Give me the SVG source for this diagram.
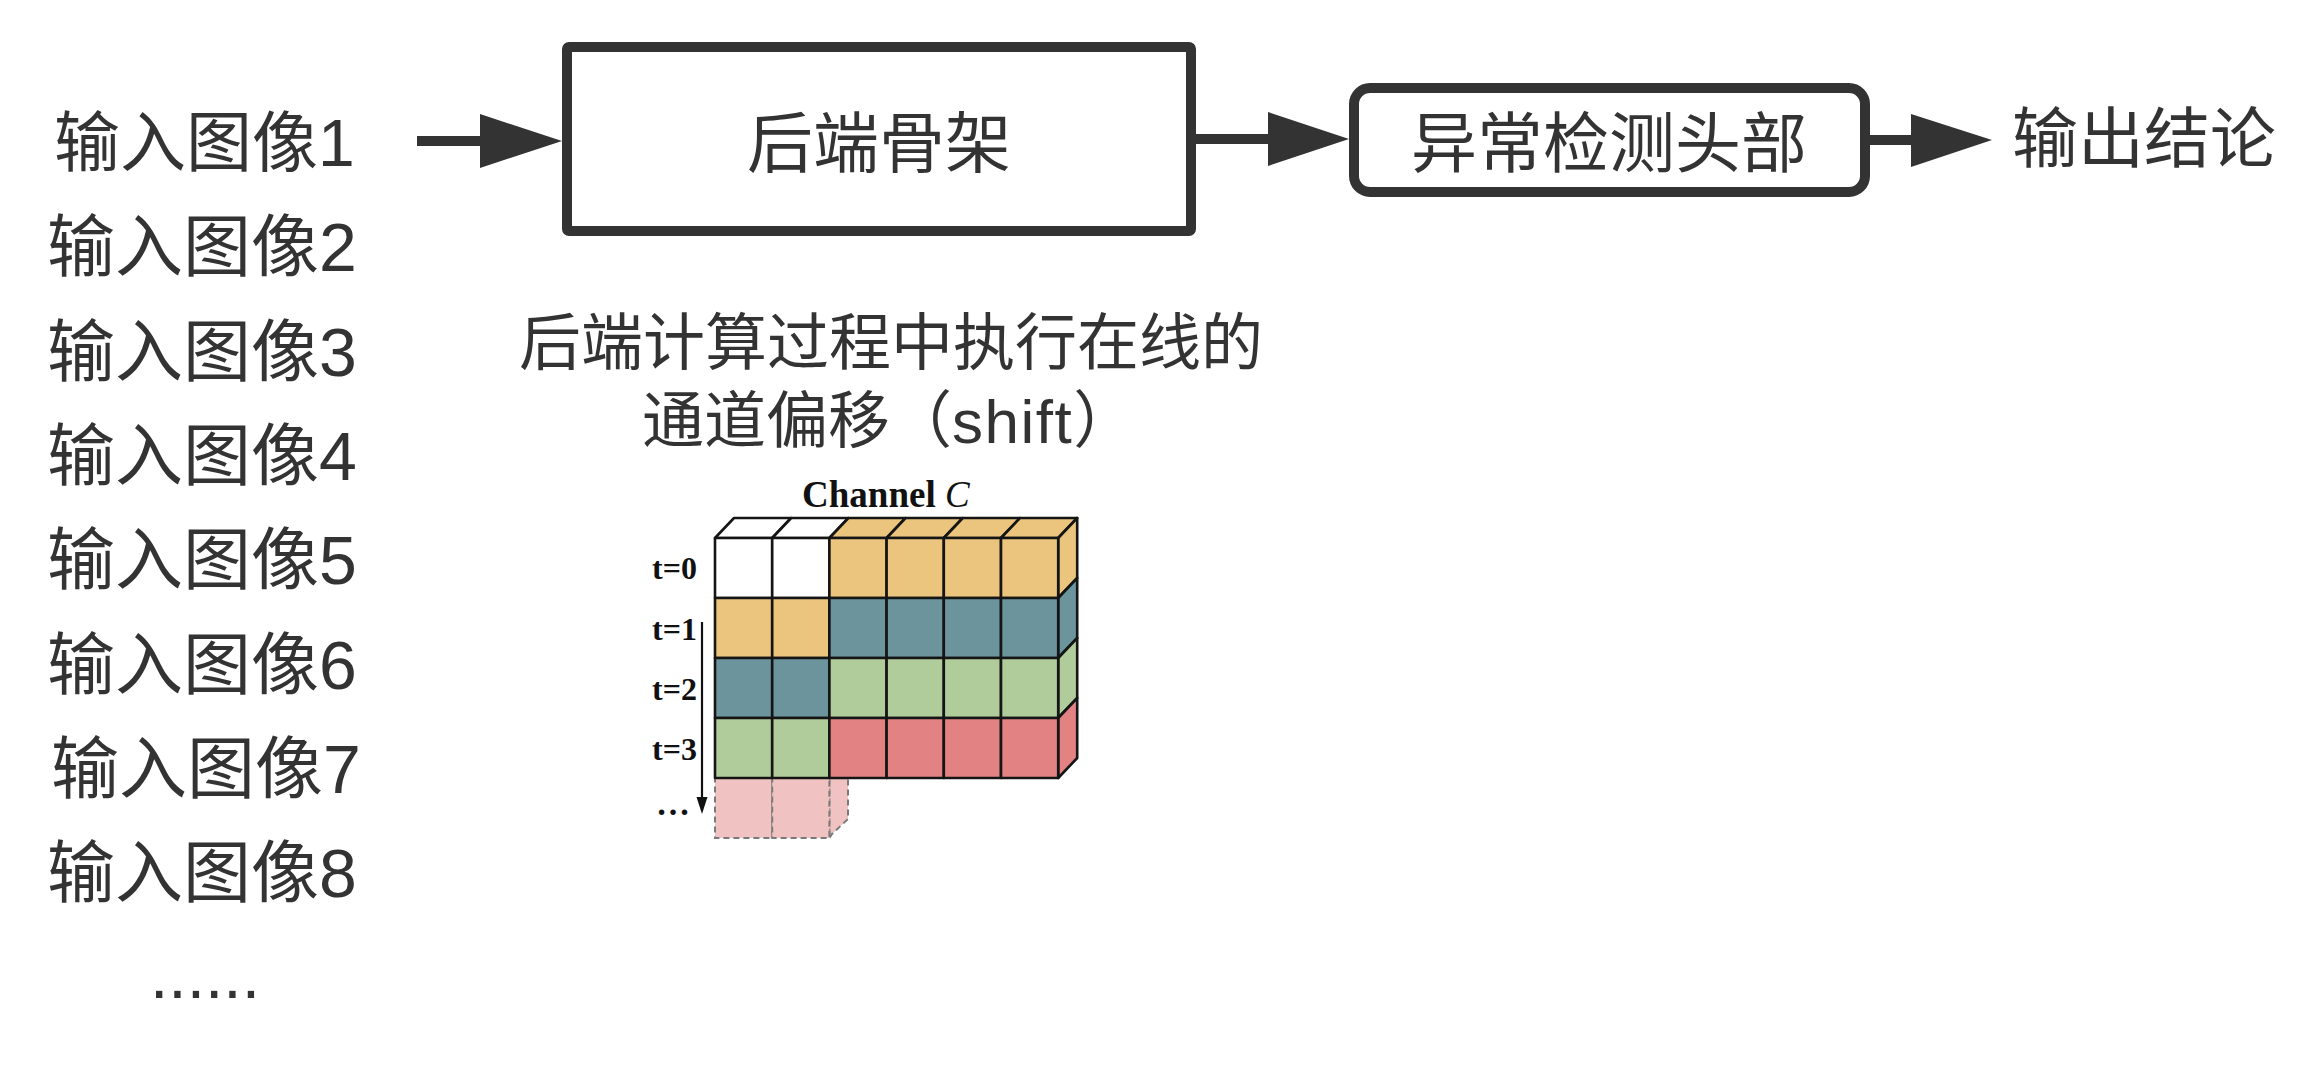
<svg xmlns="http://www.w3.org/2000/svg" width="2308" height="1080" viewBox="0 0 2308 1080">
<style>
.t{font-family:"Liberation Sans","Noto Sans CJK SC",sans-serif;fill:#333333}
.main{font-size:66px}
.in{font-size:68px}
.cap{font-size:62px}
.box{fill:#ffffff;stroke:#333333;stroke-width:10}
.conn{stroke:#333333;stroke-width:10;fill:none}
.head{fill:#333333}
.lab{font-family:"Liberation Serif",serif;font-weight:bold;fill:#111111}
.cell{stroke:#151515;stroke-width:2.6;stroke-linejoin:round}
.w{fill:#ffffff}.o{fill:#EBC57E}.b{fill:#6B949D}.g{fill:#B0CC9B}.r{fill:#E38283}
.dash{fill:#F1C2C2;stroke:#7a7a7a;stroke-width:2;stroke-dasharray:6 4}
</style>
<rect width="2308" height="1080" fill="#ffffff"/>

<g id="inputs">
<text class="t main" x="54" y="166">输入图像1</text>
<text class="t in" x="47" y="271">输入图像2</text>
<text class="t in" x="47" y="376">输入图像3</text>
<text class="t in" x="47" y="480">输入图像4</text>
<text class="t in" x="47" y="584">输入图像5</text>
<text class="t in" x="47" y="689">输入图像6</text>
<text class="t in" x="51" y="793">输入图像7</text>
<text class="t in" x="47" y="897">输入图像8</text>
<text class="t main" x="150" y="998">......</text>
</g>

<g id="backbone">
<rect class="box" x="567" y="47" width="624" height="184" rx="2"/>
<text class="t main" x="879" y="167" text-anchor="middle">后端骨架</text>
</g>

<g id="head">
<rect class="box" x="1354" y="88" width="511" height="104" rx="16"/>
<text class="t main" x="1609" y="167" text-anchor="middle">异常检测头部</text>
</g>

<g id="output">
<text class="t main" x="2012" y="162">输出结论</text>
</g>

<g id="connectors">
<line class="conn" x1="417" y1="141" x2="482" y2="141"/>
<polygon class="head" points="480,114 562,141 480,168"/>
<line class="conn" x1="1196" y1="139" x2="1270" y2="139"/>
<polygon class="head" points="1268,112 1349,139 1268,166"/>
<line class="conn" x1="1865" y1="140" x2="1913" y2="140"/>
<polygon class="head" points="1911,114 1992,140 1911,167"/>
</g>

<g id="caption">
<text class="t cap" x="519" y="365">后端计算过程中执行在线的</text>
<text class="t cap" x="642" y="443">通道偏移（<tspan letter-spacing="1.5">shift</tspan>）</text>
</g>

<g id="shift-figure">
<text class="lab" x="802" y="507" font-size="37">Channel <tspan font-style="italic" font-weight="normal">C</tspan></text>
<!-- top faces -->
<polygon class="cell w" points="715,538 734,518 791.2,518 772.2,538"/>
<polygon class="cell w" points="772.2,538 791.2,518 848.4,518 829.4,538"/>
<polygon class="cell o" points="829.4,538 848.4,518 905.6,518 886.6,538"/>
<polygon class="cell o" points="886.6,538 905.6,518 962.8,518 943.8,538"/>
<polygon class="cell o" points="943.8,538 962.8,518 1020,518 1001,538"/>
<polygon class="cell o" points="1001,538 1020,518 1077.2,518 1058.2,538"/>
<!-- right side faces -->
<polygon class="cell o" points="1058.2,538 1077.2,518 1077.2,578 1058.2,598"/>
<polygon class="cell b" points="1058.2,598 1077.2,578 1077.2,638 1058.2,658"/>
<polygon class="cell g" points="1058.2,658 1077.2,638 1077.2,698 1058.2,718"/>
<polygon class="cell r" points="1058.2,718 1077.2,698 1077.2,758 1058.2,778"/>
<!-- dashed future cells -->
<polygon class="dash" points="829.4,778 848,778 848,819 832,834 829.4,838"/>
<rect class="dash" x="715" y="778" width="57.2" height="60"/>
<rect class="dash" x="772.2" y="778" width="57.2" height="60"/>
<!-- front cells row t=0 -->
<rect class="cell w" x="715" y="538" width="57.2" height="60"/>
<rect class="cell w" x="772.2" y="538" width="57.2" height="60"/>
<rect class="cell o" x="829.4" y="538" width="57.2" height="60"/>
<rect class="cell o" x="886.6" y="538" width="57.2" height="60"/>
<rect class="cell o" x="943.8" y="538" width="57.2" height="60"/>
<rect class="cell o" x="1001" y="538" width="57.2" height="60"/>
<!-- row t=1 -->
<rect class="cell o" x="715" y="598" width="57.2" height="60"/>
<rect class="cell o" x="772.2" y="598" width="57.2" height="60"/>
<rect class="cell b" x="829.4" y="598" width="57.2" height="60"/>
<rect class="cell b" x="886.6" y="598" width="57.2" height="60"/>
<rect class="cell b" x="943.8" y="598" width="57.2" height="60"/>
<rect class="cell b" x="1001" y="598" width="57.2" height="60"/>
<!-- row t=2 -->
<rect class="cell b" x="715" y="658" width="57.2" height="60"/>
<rect class="cell b" x="772.2" y="658" width="57.2" height="60"/>
<rect class="cell g" x="829.4" y="658" width="57.2" height="60"/>
<rect class="cell g" x="886.6" y="658" width="57.2" height="60"/>
<rect class="cell g" x="943.8" y="658" width="57.2" height="60"/>
<rect class="cell g" x="1001" y="658" width="57.2" height="60"/>
<!-- row t=3 -->
<rect class="cell g" x="715" y="718" width="57.2" height="60"/>
<rect class="cell g" x="772.2" y="718" width="57.2" height="60"/>
<rect class="cell r" x="829.4" y="718" width="57.2" height="60"/>
<rect class="cell r" x="886.6" y="718" width="57.2" height="60"/>
<rect class="cell r" x="943.8" y="718" width="57.2" height="60"/>
<rect class="cell r" x="1001" y="718" width="57.2" height="60"/>
<!-- time labels -->
<text class="lab" x="697" y="579" font-size="32" text-anchor="end">t=0</text>
<text class="lab" x="697" y="640" font-size="32" text-anchor="end">t=1</text>
<text class="lab" x="697" y="700" font-size="32" text-anchor="end">t=2</text>
<text class="lab" x="697" y="760" font-size="32" text-anchor="end">t=3</text>
<text class="lab" x="656" y="815" font-size="34" font-weight="normal">…</text>
<line x1="702" y1="622" x2="702" y2="800" stroke="#111111" stroke-width="2.2"/>
<polygon points="696.5,797 707.5,797 702,814" fill="#111111"/>
</g>
</svg>
